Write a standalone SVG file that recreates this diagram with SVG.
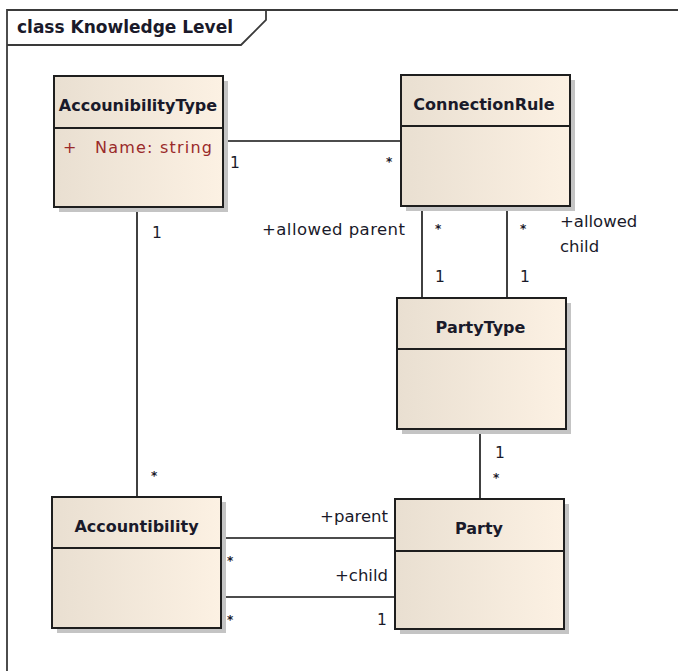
<svg xmlns="http://www.w3.org/2000/svg" width="678" height="671" viewBox="0 0 678 671">
  <defs>
    <linearGradient id="boxFill" x1="0" y1="0" x2="1" y2="0">
      <stop offset="0" stop-color="#e9dfd1"/>
      <stop offset="1" stop-color="#fcf1e3"/>
    </linearGradient>
  </defs>
  <style>
    .shadow { fill: #c4c4c4; }
    .box { fill: url(#boxFill); stroke: #1e1e1e; stroke-width: 2; }
    .div { stroke: #1e1e1e; stroke-width: 2; }
    .edge { stroke: #111; stroke-width: 1.6; fill: none; }
    .frame { stroke: #3a3a3a; stroke-width: 1.8; fill: none; }
    .name { font-family: "DejaVu Sans", sans-serif; font-weight: bold; font-size: 16px; fill: #1a1a2a; text-anchor: middle; }
    .title { font-family: "DejaVu Sans", sans-serif; font-weight: bold; font-size: 17px; fill: #1a1a2a; }
    .attr { font-family: "DejaVu Sans", sans-serif; font-size: 16px; fill: #9a2a2a; }
    .lbl { font-family: "DejaVu Sans", sans-serif; font-size: 16.5px; fill: #1a1a2a; }
    .mult { font-family: "DejaVu Sans", sans-serif; font-size: 15.5px; fill: #1a1a2a; }
    .star { font-family: "DejaVu Sans", sans-serif; font-weight: bold; font-size: 12px; fill: #1a1a2a; }
  </style>

  <!-- package frame -->
  <g id="frame">
    <path class="frame" d="M7,671 V10 H678"/>
    <path class="frame" d="M7,45 H241 L266,20 V10"/>
    <text class="title" x="17" y="33" textLength="216">class Knowledge Level</text>
  </g>

  <!-- associations -->
  <g id="connectors">
    <line class="edge" x1="223" y1="141" x2="401" y2="141"/>
    <line class="edge" x1="137" y1="207" x2="137" y2="497"/>
    <line class="edge" x1="422" y1="206" x2="422" y2="298"/>
    <line class="edge" x1="507" y1="206" x2="507" y2="298"/>
    <line class="edge" x1="480" y1="429" x2="480" y2="499"/>
    <line class="edge" x1="221" y1="538" x2="395" y2="538"/>
    <line class="edge" x1="221" y1="597" x2="395" y2="597"/>

    <!-- role names and multiplicities -->
    <text class="mult" x="230" y="168">1</text>
    <text class="star" x="386" y="166">*</text>
    <text class="mult" x="152" y="238">1</text>
    <text class="star" x="151" y="480">*</text>
    <text class="lbl" x="262" y="235" textLength="143">+allowed parent</text>
    <text class="star" x="435" y="233">*</text>
    <text class="mult" x="435" y="282">1</text>
    <text class="star" x="520" y="233">*</text>
    <text class="mult" x="520" y="282">1</text>
    <text class="lbl" x="560" y="227">+allowed</text>
    <text class="lbl" x="560" y="252">child</text>
    <text class="mult" x="495" y="458">1</text>
    <text class="star" x="493" y="482">*</text>
    <text class="lbl" x="388" y="522" text-anchor="end">+parent</text>
    <text class="lbl" x="388" y="581" text-anchor="end">+child</text>
    <text class="star" x="227" y="565">*</text>
    <text class="star" x="227" y="624">*</text>
    <text class="mult" x="377" y="625">1</text>
  </g>

  <g id="AccounibilityType">
    <rect class="shadow" x="59" y="81" width="169" height="131"/>
    <rect class="box" x="54" y="76" width="169" height="131"/>
    <line class="div" x1="54" y1="128" x2="223" y2="128"/>
    <text class="name" x="138" y="111">AccounibilityType</text>
    <text class="attr" x="63" y="153">+</text>
    <text class="attr" x="95" y="153" textLength="117">Name:  string</text>
  </g>

  <g id="ConnectionRule">
    <rect class="shadow" x="406" y="80" width="169" height="131"/>
    <rect class="box" x="401" y="75" width="169" height="131"/>
    <line class="div" x1="401" y1="126" x2="570" y2="126"/>
    <text class="name" x="484" y="110">ConnectionRule</text>
  </g>

  <g id="PartyType">
    <rect class="shadow" x="402" y="303" width="169" height="131"/>
    <rect class="box" x="397" y="298" width="169" height="131"/>
    <line class="div" x1="397" y1="349" x2="566" y2="349"/>
    <text class="name" x="480.5" y="333">PartyType</text>
  </g>

  <g id="Accountibility">
    <rect class="shadow" x="57" y="502" width="169" height="131"/>
    <rect class="box" x="52" y="497" width="169" height="131"/>
    <line class="div" x1="52" y1="548" x2="221" y2="548"/>
    <text class="name" x="136.5" y="532">Accountibility</text>
  </g>

  <g id="Party">
    <rect class="shadow" x="400" y="504" width="169" height="130"/>
    <rect class="box" x="395" y="499" width="169" height="130"/>
    <line class="div" x1="395" y1="551" x2="564" y2="551"/>
    <text class="name" x="479" y="534">Party</text>
  </g>
</svg>
